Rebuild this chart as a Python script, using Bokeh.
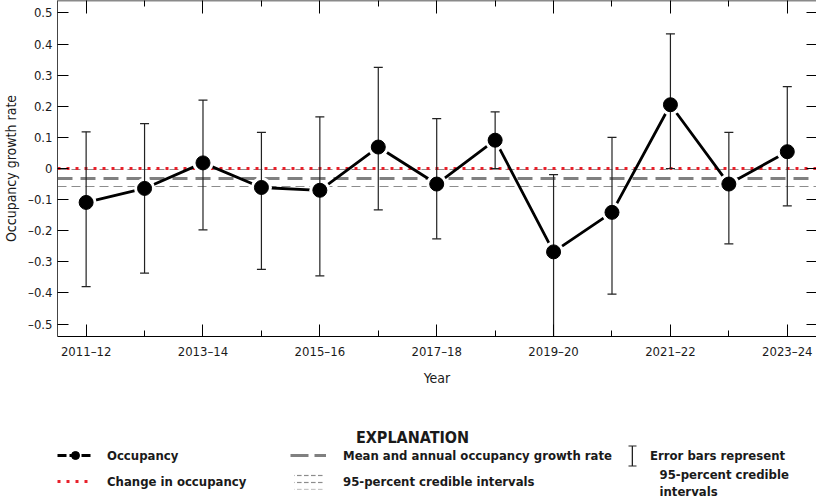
from bokeh.plotting import figure
from bokeh.layouts import column
from bokeh.models import Range1d, FixedTicker, LinearAxis, Legend, LegendItem, Label
from bokeh.embed import file_html
from bokeh.resources import INLINE

# ---------------- data ----------------
years = ["2011–12", "2012–13", "2013–14", "2014–15", "2015–16", "2016–17", "2017–18",
         "2018–19", "2019–20", "2020–21", "2021–22", "2022–23", "2023–24"]
occupancy = [-0.109, -0.064, 0.018, -0.061, -0.070, 0.069, -0.050,
             0.091, -0.268, -0.141, 0.205, -0.050, 0.054]
upper_ci = [0.118, 0.144, 0.220, 0.116, 0.166, 0.325, 0.160,
            0.182, -0.020, 0.100, 0.433, 0.116, 0.263]
lower_ci = [-0.380, -0.336, -0.197, -0.324, -0.345, -0.133, -0.226,
            0.000, -0.600, -0.404, 0.000, -0.242, -0.120]
change_level = [0.0]
mean_rate = [-0.032]
mean_ci = [-0.004, -0.058]
y_ticks = [-0.5, -0.4, -0.3, -0.2, -0.1, 0.0, 0.1, 0.2, 0.3, 0.4, 0.5]
y_tick_labels = ["–0.5", "–0.4", "–0.3", "–0.2", "–0.1", "0", "0.1", "0.2", "0.3", "0.4", "0.5"]

FONT = "'DejaVu Sans Condensed', 'Liberation Sans Narrow', sans-serif"
TXT = "#1a1a1a"
RED = "#e8202a"
GREY = "#808080"
LTGREY = "#8c8c8c"
BAR = "#222222"

x = list(range(len(years)))
x_major = x[::2]
x_minor = x[1::2]

W = 816
H1 = 390
H2 = 109

p = figure(width=W, height=H1, output_backend="svg", toolbar_location=None,
           x_range=Range1d(-0.49, 12.5), y_range=Range1d(-0.54, 0.54),
           min_border_left=48, min_border_right=0, min_border_top=0, min_border_bottom=54,
           outline_line_color=None, x_axis_label="Year", y_axis_label="Occupancy growth rate")
p.grid.visible = False

# bottom axis
xa = p.xaxis[0]
xa.ticker = FixedTicker(ticks=x_major, minor_ticks=x_minor)
xa.major_label_overrides = {i: years[i] for i in x_major}
xa.major_tick_in = 12
xa.major_tick_out = 0
xa.minor_tick_in = 6
xa.minor_tick_out = 0
xa.axis_line_color = "black"
xa.major_tick_line_color = "black"
xa.minor_tick_line_color = "black"
xa.major_label_text_font = FONT
xa.major_label_text_font_size = "13px"
xa.major_label_text_color = TXT
xa.major_label_standoff = 7
xa.axis_label_text_font = FONT
xa.axis_label_text_font_size = "14px"
xa.axis_label_text_font_style = "normal"
xa.axis_label_text_color = TXT
xa.axis_label_standoff = 8

# left axis
ya = p.yaxis[0]
ya.ticker = FixedTicker(ticks=y_ticks, minor_ticks=[])
ya.major_label_overrides = {t: s for t, s in zip(y_ticks, y_tick_labels)}
ya.major_tick_in = 11
ya.major_tick_out = 0
ya.minor_tick_line_color = None
ya.axis_line_color = "#444444"
ya.major_tick_line_color = "black"
ya.major_label_text_font = FONT
ya.major_label_text_font_size = "13px"
ya.major_label_text_color = TXT
ya.major_label_standoff = 5
ya.axis_label_text_font = FONT
ya.axis_label_text_font_size = "14px"
ya.axis_label_text_font_style = "normal"
ya.axis_label_text_color = TXT
ya.axis_label_standoff = 6

# top axis (ticks only)
top = LinearAxis(ticker=FixedTicker(ticks=x_major, minor_ticks=x_minor),
                 major_label_overrides={i: "" for i in x},
                 major_label_text_font_size="0px", major_label_standoff=0,
                 major_tick_in=13, major_tick_out=0, minor_tick_in=6, minor_tick_out=0,
                 axis_line_color="#8a8a8a", axis_line_width=2,
                 major_tick_line_color="black", minor_tick_line_color="black")
p.add_layout(top, "above")

# right axis (ticks only)
right = LinearAxis(ticker=FixedTicker(ticks=y_ticks, minor_ticks=[]),
                   major_label_overrides={t: "" for t in y_ticks},
                   major_label_text_font_size="0px", major_label_standoff=0,
                   major_tick_in=10, major_tick_out=0, minor_tick_line_color=None,
                   axis_line_color="black", major_tick_line_color="black")
p.add_layout(right, "right")

# reference lines
p.hspan(y=mean_ci, line_color=LTGREY, line_width=1, line_dash="9 5")
p.hspan(y=mean_rate, line_color=GREY, line_width=3, line_dash="15 8")
p.hspan(y=change_level, line_color=RED, line_width=3, line_dash="3 6")

# occupancy line, halos, error bars, markers
p.line(x, occupancy, line_color="black", line_width=2.8)
p.scatter(x, occupancy, marker="circle", size=21, fill_color="white", line_color=None)
p.segment(x0=x, y0=lower_ci, x1=x, y1=upper_ci, line_color=BAR, line_width=1.2)
p.scatter(x, upper_ci, marker="dash", size=9, line_color=BAR, line_width=1.2)
p.scatter(x, lower_ci, marker="dash", size=9, line_color=BAR, line_width=1.2)
p.scatter(x, occupancy, marker="circle", size=14, fill_color="black", line_color="black")

# ---------------- explanation panel ----------------
# Its ranges lie far from the data, so the key renderers below only feed the legend swatches.
q = figure(width=W, height=H2, output_backend="svg", toolbar_location=None,
           x_range=Range1d(1000, 1001), y_range=Range1d(1000, 1001),
           x_axis_location=None, y_axis_location=None,
           min_border_left=0, min_border_right=0, min_border_top=0, min_border_bottom=0,
           outline_line_color=None)
q.grid.visible = False

k_line = q.line(x, occupancy, line_color="black", line_width=2.8, line_dash="9 3")
k_pts = q.scatter(x, occupancy, marker="circle", fill_color="black", line_color="black")
k_change = q.line(x, occupancy, line_color=RED, line_width=3, line_dash="3 6")
k_mean = q.line(x, occupancy, line_color=GREY, line_width=3, line_dash="18 6")
k_ci = q.block(x, occupancy, 1, 1, fill_alpha=0, line_alpha=0, hatch_pattern="horizontal_dash",
               hatch_color=LTGREY, hatch_scale=7, hatch_weight=1.2)
k_bar = q.vbar(x, 1, occupancy, fill_color=BAR, line_color=None)
k_caps = q.block(x, occupancy, 1, 1, fill_alpha=0, line_color=BAR, line_width=1.2,
                 line_dash="8 20")


def make_legend(items, loc, gw, gh, standoff, spacing=6):
    return Legend(items=items, location=loc, orientation="vertical",
                  padding=0, margin=0, spacing=spacing, glyph_height=gh, glyph_width=gw,
                  label_height=20, label_standoff=standoff,
                  label_text_font=FONT, label_text_font_size="13px",
                  label_text_font_style="bold", label_text_color=TXT,
                  background_fill_alpha=0, border_line_color=None)


leg1 = make_legend([LegendItem(label="Occupancy", renderers=[k_line, k_pts]),
                    LegendItem(label="Change in occupancy", renderers=[k_change])],
                   (0, 8), 36, 20, 14)
leg2 = make_legend([LegendItem(label="Mean and annual occupancy growth rate", renderers=[k_mean]),
                    LegendItem(label="95-percent credible intervals", renderers=[k_ci])],
                   (233, 8), 36, 20, 17)
leg3 = make_legend([LegendItem(label="Error bars represent", renderers=[k_bar])],
                   (574, 31), 2, 25, 17)
leg3caps = make_legend([LegendItem(label=" ", renderers=[k_caps])],
                       (570, 31), 10, 25, 0)
for lg in (leg1, leg2, leg3, leg3caps):
    q.add_layout(lg)

q.add_layout(Label(x=355, y=62, x_units="screen", y_units="screen", text="EXPLANATION",
                   text_align="center", text_baseline="middle", text_font=FONT,
                   text_font_size="16px", text_font_style="bold", text_color=TXT))
q.add_layout(Label(x=602, y=25, x_units="screen", y_units="screen", text="95-percent credible",
                   text_align="left", text_baseline="middle", text_font=FONT,
                   text_font_size="13px", text_font_style="bold", text_color=TXT))
q.add_layout(Label(x=602, y=8, x_units="screen", y_units="screen", text="intervals",
                   text_align="left", text_baseline="middle", text_font=FONT,
                   text_font_size="13px", text_font_style="bold", text_color=TXT))

open("out.html", "w").write(file_html(column(p, q), INLINE))
